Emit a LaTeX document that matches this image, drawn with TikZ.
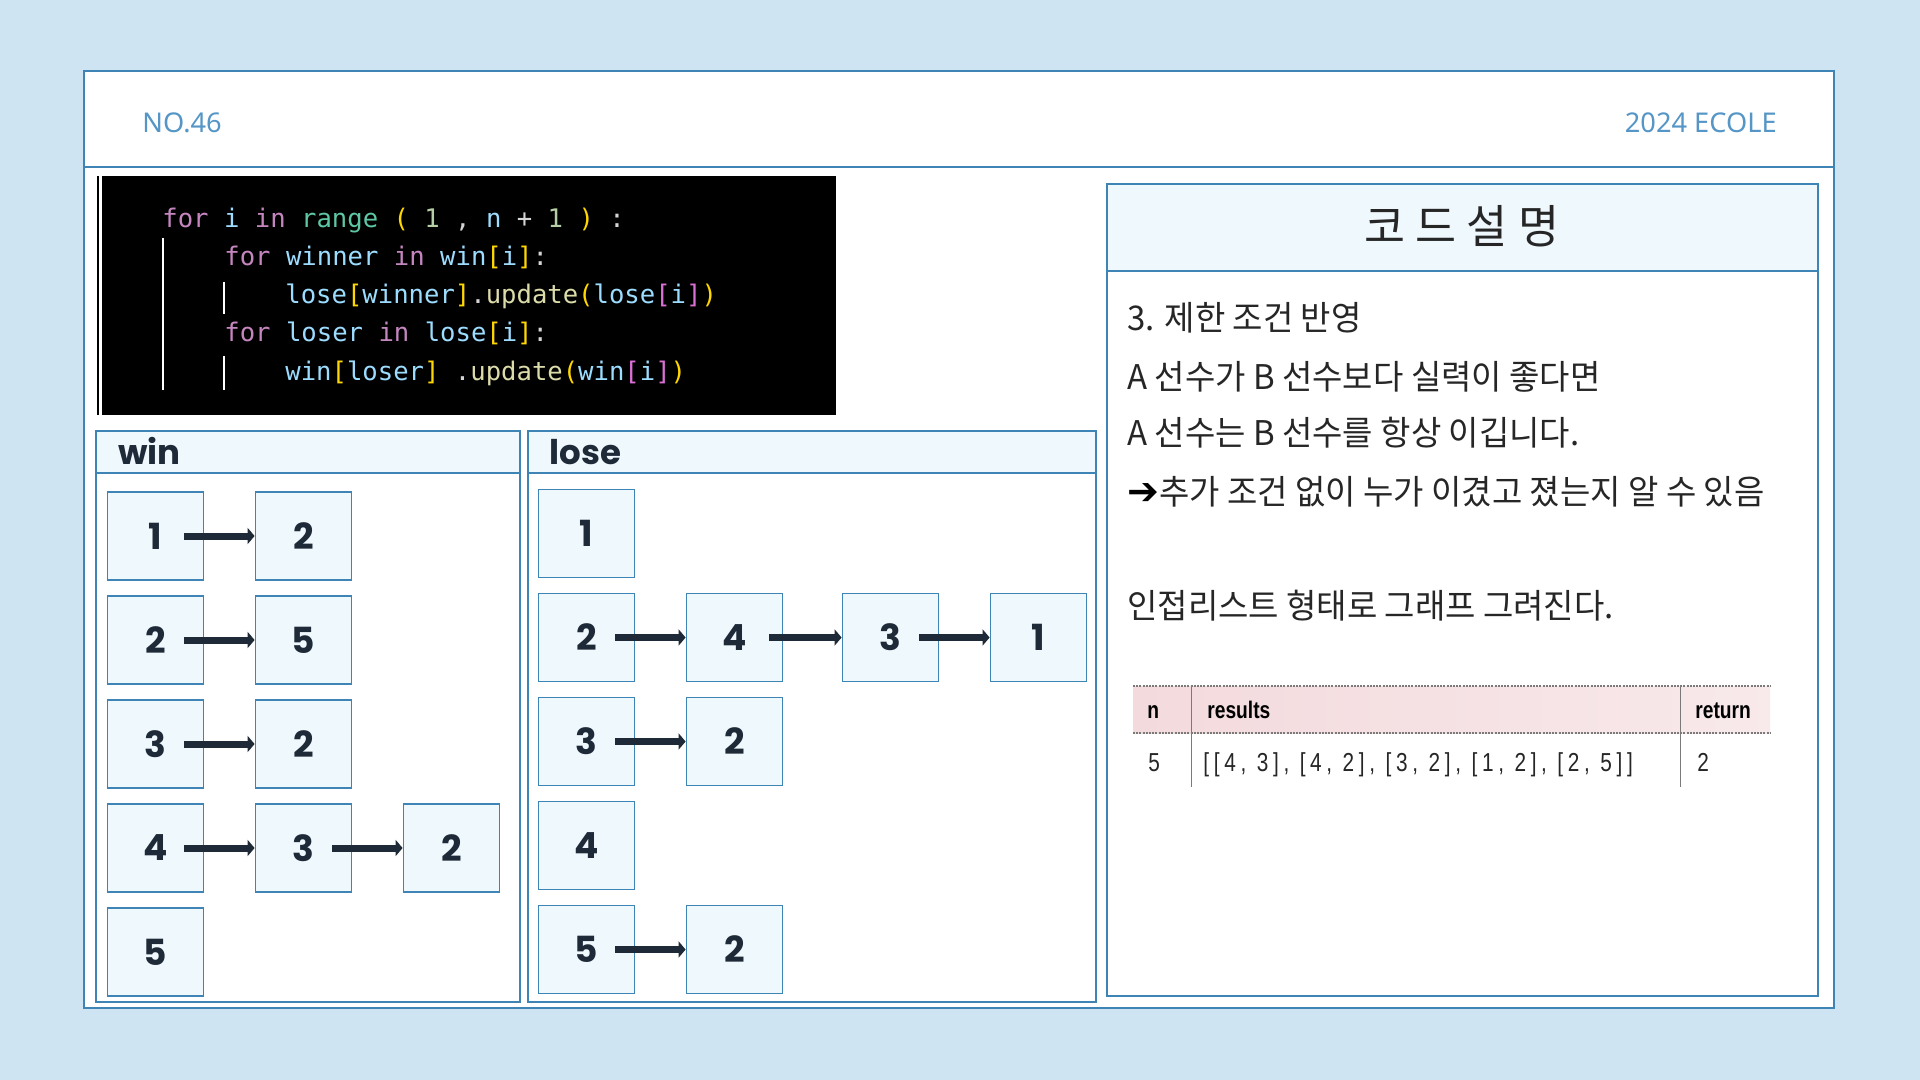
\documentclass[tikz,border=0pt]{standalone}
\usepackage{fontspec}
\usepackage{tikz}
\usetikzlibrary{positioning}
\usetikzlibrary{arrows.meta}
\setmainfont{Noto Sans}
\newfontfamily\krfont{Noto Sans CJK KR}[FakeStretch=0.97]
\newfontfamily\cellfont{Poppins}
\newfontfamily\codefont{DejaVu Sans Mono}
\newfontfamily\symfont{DejaVu Sans}
\newfontfamily\headfont{Liberation Sans}[FakeStretch=0.8]
\newfontfamily\datafont{Liberation Sans}[FakeStretch=0.8,LetterSpace=18]
\definecolor{bgblue}{HTML}{CEE4F2}
\definecolor{lineblue}{HTML}{3E85B6}
\definecolor{cellfill}{HTML}{EFF8FD}
\definecolor{navy}{HTML}{1E2A38}
\definecolor{numblue}{HTML}{5596C6}
\definecolor{krgray}{HTML}{262626}
\definecolor{codewhite}{HTML}{D4D4D4}
\definecolor{kwpink}{HTML}{C586C0}
\definecolor{varblue}{HTML}{9CDCFE}
\definecolor{fnteal}{HTML}{5FC6A5}
\definecolor{fnyellow}{HTML}{DCDCAA}
\definecolor{numgreen}{HTML}{B5CEA8}
\definecolor{brgold}{HTML}{FFD700}
\definecolor{brpink}{HTML}{DA70D6}
\definecolor{tabpink}{HTML}{F3DADD}
\definecolor{tabrule}{HTML}{7A7A7A}
\newcommand{\ckw}[1]{\textcolor{kwpink}{#1}}
\newcommand{\cvar}[1]{\textcolor{varblue}{#1}}
\newcommand{\cfn}[1]{\textcolor{fnyellow}{#1}}
\newcommand{\cnum}[1]{\textcolor{numgreen}{#1}}
\newcommand{\cbA}[1]{\textcolor{brgold}{#1}}
\newcommand{\cbB}[1]{\textcolor{brpink}{#1}}
\begin{document}
\begin{tikzpicture}[x=0.5pt,y=-0.5pt,node distance=52pt and 74pt,on grid,
		cell/.style={rectangle,draw=lineblue,line width=0.9pt,fill=cellfill,minimum width=48pt,minimum height=44pt,inner sep=0pt,text=navy,font=\cellfont\bfseries\fontsize{18pt}{18pt}\selectfont},
		link/.style={-{Triangle[length=3.5pt,width=8pt]},line width=3.5pt,draw=navy},
		panel/.style={draw=lineblue,line width=0.9pt,fill=white},
		panelhead/.style={draw=lineblue,line width=0.9pt,fill=cellfill},
		codeline/.style={anchor=base west,inner sep=0pt,text=codewhite,font=\codefont\fontsize{12.8pt}{14pt}\selectfont},
		krtext/.style={anchor=base west,inner sep=0pt,text=krgray,font=\krfont\fontsize{17pt}{20pt}\selectfont},
		guide/.style={draw=white,line width=0.8pt}]
		\useasboundingbox (0,0) rectangle (1920,1080);
		\fill[bgblue] (0,0) rectangle (1920,1080);
		\draw[lineblue,line width=1pt,fill=white] (84,71) rectangle (1834,1008);
		\draw[lineblue,line width=1pt] (84,167) -- (1834,167);
		\node[anchor=base west,inner sep=0pt,text=numblue,font=\fontsize{13.6pt}{16pt}\selectfont] (no) at (142,133) {NO.46};
		\node[anchor=base east,inner sep=0pt,text=numblue,font=\fontsize{13.6pt}{16pt}\selectfont] (year) at (1777,133) {2024 ECOLE};
		
		\fill[black] (102,176) rectangle (836,415);
		\draw[black,line width=1pt] (98,176) -- (98,415);
		\draw[guide] (163,238) -- (163,390);
		\draw[guide] (224,282) -- (224,314);
		\draw[guide] (224,356) -- (224,390);
		\node[codeline] (c1) at (162,228) {\ckw{for} \cvar{i} \ckw{in} \textcolor{fnteal}{range} \cbA{(} \cnum{1} , \cvar{n} + \cnum{1} \cbA{)} :};
		\node[codeline] (c2) at (224,266) {\ckw{for} \cvar{winner} \ckw{in} \cvar{win}\cbA{[}\cvar{i}\cbA{]}:};
		\node[codeline] (c3) at (285,304) {\cvar{lose}\cbA{[}\cvar{winner}\cbA{]}.\cfn{update}\cbA{(}\cvar{lose}\cbB{[}\cvar{i}\cbB{]}\cbA{)}};
		\node[codeline] (c4) at (224,342) {\ckw{for} \cvar{loser} \ckw{in} \cvar{lose}\cbA{[}\cvar{i}\cbA{]}:};
		\node[codeline] (c5) at (285,380) {\cvar{win}\cbA{[}\cvar{loser}\cbA{]} .\cfn{update}\cbA{(}\cvar{win}\cbB{[}\cvar{i}\cbB{]}\cbA{)}};
		
		\draw[panel] (96,431) rectangle (520,1002);
		\draw[panelhead] (96,431) rectangle (520,473);
		\node[anchor=base west,inner sep=0pt,text=navy,font=\cellfont\bfseries\fontsize{17pt}{17pt}\selectfont] (wintitle) at (118,464) {win};
		\draw[panel] (528,431) rectangle (1096,1002);
		\draw[panelhead] (528,431) rectangle (1096,473);
		\node[anchor=base west,inner sep=0pt,text=navy,font=\cellfont\bfseries\fontsize{17pt}{17pt}\selectfont] (losetitle) at (549,464) {lose};
		
		\node[cell]  (w1)   at (155.5,536)     {1};
		\node[cell]  (w1a)  [right=of w1]      {2};
		\node[cell]  (w2)   [below=of w1]      {2};
		\node[cell]  (w2a)  [right=of w2]      {5};
		\node[cell]  (w3)   [below=of w2]      {3};
		\node[cell]  (w3a)  [right=of w3]      {2};
		\node[cell]  (w4)   [below=of w3]      {4};
		\node[cell]  (w4a)  [right=of w4]      {3};
		\node[cell]  (w4b)  [right=of w4a]     {2};
		\node[cell]  (w5)   [below=of w4]      {5};
		
		\node[cell]  (l1)   at (586.5,533.5)   {1};
		\node[cell]  (l2)   [below=of l1]      {2};
		\node[cell]  (l2a)  [right=of l2]      {4};
		\node[cell]  (l2b)  [right=78pt of l2a] {3};
		\node[cell]  (l2c)  [right=of l2b]     {1};
		\node[cell]  (l3)   [below=of l2]      {3};
		\node[cell]  (l3a)  [right=of l3]      {2};
		\node[cell]  (l4)   [below=of l3]      {4};
		\node[cell]  (l5)   [below=of l4]      {5};
		\node[cell]  (l5a)  [right=of l5]      {2};
		
		\draw[link] ([xshift=-10pt]w1.east) -- (w1a.west);
		\draw[link] ([xshift=-10pt]w2.east) -- (w2a.west);
		\draw[link] ([xshift=-10pt]w3.east) -- (w3a.west);
		\draw[link] ([xshift=-10pt]w4.east) -- (w4a.west);
		\draw[link] ([xshift=-10pt]w4a.east) -- (w4b.west);
		\draw[link] ([xshift=-10pt]l2.east) -- (l2a.west);
		\draw[link] ([xshift=-7pt]l2a.east) -- (l2b.west);
		\draw[link] ([xshift=-10pt]l2b.east) -- (l2c.west);
		\draw[link] ([xshift=-10pt]l3.east) -- (l3a.west);
		\draw[link] ([xshift=-10pt]l5.east) -- (l5a.west);
		
		\draw[panel] (1107,184) rectangle (1818,996);
		\draw[panelhead] (1107,184) rectangle (1818,271);
		\node[anchor=base,inner sep=0pt,text=krgray,font=\krfont\fontsize{23pt}{25pt}\selectfont] (title) at (1462,244) {코 드 설 명};
		\node[krtext] (t1) at (1127,331) {3. 제한 조건 반영};
		\node[krtext] (t2) at (1127,389) {A 선수가 B 선수보다 실력이 좋다면};
		\node[krtext] (t3) at (1127,445) {A 선수는 B 선수를 항상 이깁니다.};
		\node[krtext] (t4) at (1127,504) {{\symfont\fontsize{19pt}{20pt}\selectfont\textcolor{black}{➔}}추가 조건 없이 누가 이겼고 졌는지 알 수 있음};
		\node[krtext] (t5) at (1127,618) {인접리스트 형태로 그래프 그려진다.};
		
		\shade[left color=tabpink,right color=tabpink!60] (1133,686) rectangle (1770,733);
		\draw[tabrule,line width=0.6pt,dash pattern=on 1pt off 0.6pt] (1133,686) -- (1770,686);
		\draw[tabrule,line width=0.6pt,dash pattern=on 1pt off 0.6pt] (1133,733) -- (1770,733);
		\draw[tabrule,line width=0.5pt] (1191,686) -- (1191,787);
		\draw[tabrule,line width=0.5pt] (1680,686) -- (1680,787);
		\node[anchor=base west,inner sep=0pt,font=\headfont\bfseries\fontsize{12pt}{14pt}\selectfont] (hn) at (1147,718) {n};
		\node[anchor=base west,inner sep=0pt,font=\headfont\bfseries\fontsize{12pt}{14pt}\selectfont] (hres) at (1207,718) {results};
		\node[anchor=base west,inner sep=0pt,font=\headfont\bfseries\fontsize{12pt}{14pt}\selectfont] (hret) at (1695,718) {return};
		\node[anchor=base west,inner sep=0pt,text=krgray,font=\datafont\fontsize{13pt}{15pt}\selectfont] (dn) at (1148,771) {5};
		\node[anchor=base west,inner sep=0pt,text=krgray,font=\datafont\fontsize{13pt}{15pt}\selectfont] (dres) at (1203,771) {[[4, 3], [4, 2], [3, 2], [1, 2], [2, 5]]};
		\node[anchor=base west,inner sep=0pt,text=krgray,font=\datafont\fontsize{13pt}{15pt}\selectfont] (dret) at (1697,771) {2};
\end{tikzpicture}
\end{document}
